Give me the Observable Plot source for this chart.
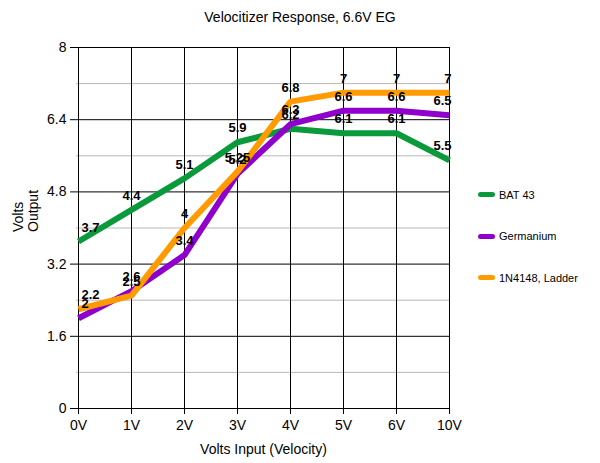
<!DOCTYPE html>
<html><head><meta charset="utf-8">
<script src="https://cdn.jsdelivr.net/npm/d3@7"></script>
<script src="https://cdn.jsdelivr.net/npm/@observablehq/plot@0.6"></script>
<style>
body{margin:0;background:#fff;font-family:"Liberation Sans",Arial,sans-serif;}
#wrap{position:relative;width:600px;height:463px;overflow:hidden;}
#title{height:30px;line-height:34px;text-align:center;font-size:14px;color:#000;}
#legend{position:absolute;left:478px;top:174px;font-size:11px;color:#000;}
.item{display:flex;align-items:center;height:41.5px;}
.sw{width:17px;height:5px;border-radius:3px;margin-right:4px;}
</style></head>
<body><div id="wrap"><div id="title">Velocitizer Response, 6.6V EG</div><div id="chart"></div><div id="legend"></div></div>
<script>
const categories = ["0V","1V","2V","3V","4V","5V","6V","10V"];
const seriesNames = ["BAT 43","Germanium","1N4148, Ladder"];
const colors = ["#0a9a3c","#9000cc","#ff9a00"];
const bat43 = [3.7, 4.4, 5.1, 5.9, 6.2, 6.1, 6.1, 5.5];
const germanium = [2, 2.6, 3.4, 5.2, 6.3, 6.6, 6.6, 6.5];
const ladder = [2.2, 2.5, 4, 5.25, 6.8, 7, 7, 7];
const majorTicks = [0, 1.6, 3.2, 4.8, 6.4, 8];
const minorTicks = [0.8, 2.4, 4.0, 5.6, 7.2];

const seriesVals = [bat43, germanium, ladder];
const data = [];
seriesVals.forEach((vals, s) => vals.forEach((v, i) => data.push({series: seriesNames[s], cat: categories[i], idx: i, v})));

const first = categories[0], last = categories[categories.length - 1];
const labelStyle = {x: "cat", y: "v", text: d => String(d.v), fontWeight: "bold", fontSize: 13, fill: "#000", dy: -14};

const chart = Plot.plot({
  width: 600, height: 433,
  marginTop: 17, marginBottom: 55, marginLeft: 76, marginRight: 150,
  style: {fontFamily: "'Liberation Sans', Arial, sans-serif", fontSize: "13px", color: "#000", background: "#fff"},
  x: {type: "point", domain: categories, padding: 0, label: null},
  y: {domain: [0, 8], label: null},
  color: {domain: seriesNames, range: colors},
  marks: [
    Plot.ruleY(minorTicks, {stroke: "#b8b8b8", strokeWidth: 1}),
    Plot.ruleY(majorTicks, {stroke: "#000", strokeWidth: 1}),
    Plot.ruleX(categories, {stroke: "#000", strokeWidth: 1}),
    Plot.axisY({ticks: majorTicks, tickFormat: d => String(d), tickSize: 6, tickPadding: 4, fontSize: 14, label: null}),
    Plot.axisX({tickSize: 6, tickPadding: 6, fontSize: 14, label: null}),
    Plot.line(data, {x: "cat", y: "v", z: "series", stroke: "series", strokeWidth: 6, strokeLinejoin: "miter", strokeLinecap: "butt"}),
    Plot.text(data.filter(d => d.cat === first), {...labelStyle, textAnchor: "start", dx: 3}),
    Plot.text(data.filter(d => d.cat !== first && d.cat !== last), {...labelStyle, textAnchor: "middle"}),
    Plot.text(data.filter(d => d.cat === last), {...labelStyle, textAnchor: "end", dx: 2}),
    Plot.text(["Volts\nOutput"], {frameAnchor: "left", rotate: -90, dx: -51, dy: 4, fontSize: 14, lineHeight: 1.1, fill: "#000"}),
    Plot.text(["Volts Input (Velocity)"], {frameAnchor: "bottom", dy: 45, fontSize: 14, fill: "#000"})
  ]
});
document.getElementById("chart").appendChild(chart);

const legend = document.getElementById("legend");
seriesNames.forEach((n, i) => {
  const it = document.createElement("div"); it.className = "item";
  const sw = document.createElement("div"); sw.className = "sw"; sw.style.background = colors[i];
  const t = document.createElement("span"); t.textContent = n;
  it.appendChild(sw); it.appendChild(t); legend.appendChild(it);
});
</script></body></html>
